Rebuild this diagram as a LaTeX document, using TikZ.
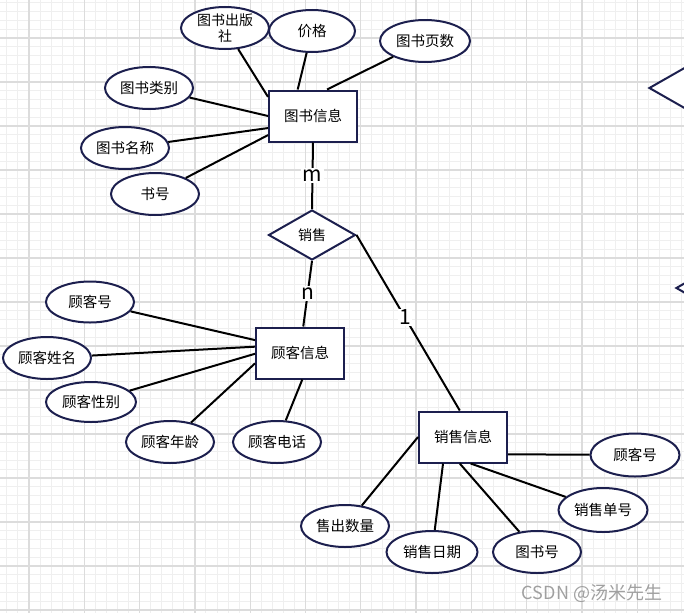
\documentclass[tikz,border=0pt]{standalone}
\usepackage{fontspec}
\newfontfamily\cjk{Noto Sans CJK SC}
\usetikzlibrary{shapes.geometric}
\definecolor{navy}{HTML}{1C1F4E}
\definecolor{minorgrid}{HTML}{EFEFEF}
\definecolor{majorgrid}{HTML}{DCDCDC}
\definecolor{mark}{HTML}{A0A0A0}

\begin{document}
\begin{tikzpicture}[x=1pt, y=-1pt, line width=2pt,
    attr/.style = {draw=navy, ellipse, fill=white, minimum width=88pt, minimum height=42pt, inner sep=0pt, align=center, font=\cjk\fontsize{14.5}{16.5}\selectfont},
    ent/.style = {draw=navy, rectangle, fill=white, minimum width=88pt, minimum height=51pt, inner sep=0pt, font=\cjk\fontsize{14.5}{15}\selectfont},
    rel/.style = {draw=navy, diamond, aspect=1.74, fill=white, minimum width=87pt, minimum height=50pt, inner sep=0pt, font=\cjk\fontsize{14}{15}\selectfont},
    card/.style = {fill=white, inner sep=1.5pt, font=\cjk\fontsize{21}{21}\selectfont}]
    \useasboundingbox (0,0) rectangle (684,613);
    \clip (0,0) rectangle (684,613);

    % grid
    \foreach \i in {0,...,61} \draw[minorgrid, line width=1pt] ({6.88+11.06*\i},0) -- ++(0,613);
    \foreach \j in {0,...,69} \draw[minorgrid, line width=1pt] (0,{2.8+8.8*\j}) -- ++(684,0);
    \foreach \i in {0,...,11} \draw[majorgrid, line width=1.3pt] ({29+55.3*\i},0) -- ++(0,613);
    \foreach \j in {0,...,13} \draw[majorgrid, line width=1.3pt] (0,{38+44*\j}) -- ++(684,0);

    % entities and relationship
    \node[ent] (1) at (313,116) {图书信息};
    \node[ent] (2) at (300,353) {顾客信息};
    \node[ent] (3) at (463,437) {销售信息};
    \node[rel] (4) at (312,235) {销售};

    % attributes
    \node[attr, font=\cjk\fontsize{14}{16.5}\selectfont] (5) at (225,28) {图书出版\\社};
    \node[attr, minimum width=86pt] (6) at (312,31) {价格};
    \node[attr, minimum width=90pt] (7) at (425,41) {图书页数};
    \node[attr] (8) at (149,88) {图书类别};
    \node[attr] (9) at (125,148) {图书名称};
    \node[attr] (10) at (155,194) {书号};
    \node[attr, minimum height=41pt] (11) at (90,302) {顾客号};
    \node[attr] (12) at (47,358) {顾客姓名};
    \node[attr, minimum width=90pt, minimum height=40pt] (13) at (91,402) {顾客性别};
    \node[attr] (14) at (170,442) {顾客年龄};
    \node[attr] (15) at (277,442) {顾客电话};
    \node[attr, minimum width=89pt, minimum height=43pt] (16) at (635,455) {顾客号};
    \node[attr, minimum width=89pt, minimum height=44pt] (17) at (603,510) {销售单号};
    \node[attr] (18) at (537,552) {图书号};
    \node[attr, minimum width=91pt] (19) at (432,552) {销售日期};
    \node[attr] (20) at (345,526) {售出数量};

    % cut off at the right edge
    \node[rel] (21) at (692.5,88) {};
    \node[rel] (22) at (719.5,288) {};

    \draw (5) -- (1.157);
    \draw (6) -- (1.120);
    \draw (7) -- (1.62);
    \draw (8) -- (1.180);
    \draw (9) -- (1.195);
    \draw (10) -- (1.203);

    \draw (11) -- (2.164);
    \draw (12) -- (2.172);
    \draw (13) -- (2.181);
    \draw (14) -- (2.193);
    \draw (15) -- (2.275);

    \draw (20) -- (3.180);
    \draw (19) -- (3.233);
    \draw (18) -- (3.263);
    \draw (17) -- (3.286);
    \draw (16) -- (3.339);

    \draw (1.south) -- node[card] {m} (4.north);
    \draw (4.south) -- node[card] {n} (2.83);
    \draw (4.east) -- node[card, pos=0.47] {1} (3.97);

    \node[text=mark, font=\cjk\fontsize{18}{18}\selectfont] (23) at (592,593) {CSDN @汤米先生};
\end{tikzpicture}
\end{document}
